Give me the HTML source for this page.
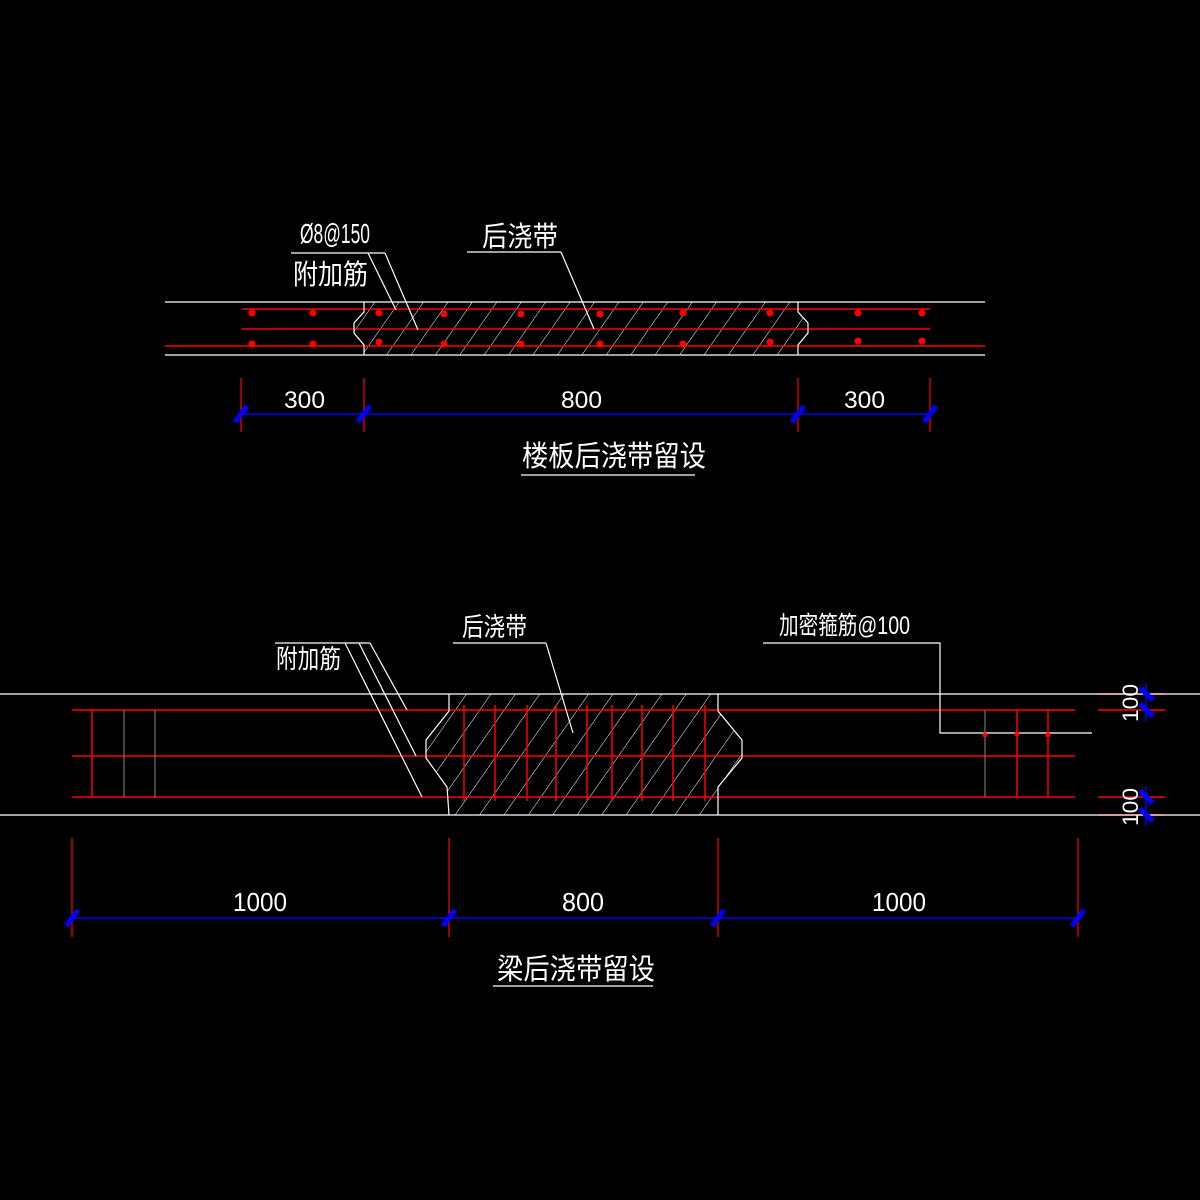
<!DOCTYPE html>
<html><head><meta charset="utf-8"><style>html,body{margin:0;padding:0;background:#000}svg{display:block}</style></head>
<body>
<svg width="1200" height="1200" viewBox="0 0 1200 1200" xmlns="http://www.w3.org/2000/svg">
<defs>
<pattern id="h" width="20" height="20" patternUnits="userSpaceOnUse" patternTransform="rotate(35)">
<line x1="0" y1="0" x2="0" y2="20" stroke="#fff" stroke-width="1"/>
</pattern>
<clipPath id="c1"><polygon points="364,302 364,312 354,323 354,333 364,345 364,355 798,355 798,345 808,333 808,323 798,312 798,302"/></clipPath>
<clipPath id="c2"><polygon points="449,694 449,711 426,740 426,758 447,787 449,815 718,815 718,787 742,758 742,740 718,711 718,694"/></clipPath>
</defs>
<rect width="1200" height="1200" fill="#000"/>
<g font-family="Liberation Sans, Noto Sans CJK SC, sans-serif" fill="#fff">
<!-- Slab -->
<rect x="354" y="302" width="454" height="53" fill="url(#h)" clip-path="url(#c1)"/>
<g stroke="#f00" stroke-width="1.5">
<line x1="242" y1="309" x2="930" y2="309"/>
<line x1="242" y1="329" x2="930" y2="329"/>
<line x1="165" y1="346" x2="985" y2="346"/>
</g>
<g stroke="#fff" stroke-width="1.2" fill="none">
<line x1="165" y1="302" x2="985" y2="302"/>
<line x1="165" y1="355" x2="985" y2="355"/>
<polyline points="364,302 364,312 354,323 354,333 364,345 364,355"/>
<polyline points="798,302 798,312 808,323 808,333 798,345 798,355"/>
<line x1="291" y1="253" x2="385" y2="253"/>
<line x1="368" y1="253" x2="396" y2="310"/>
<line x1="385" y1="253" x2="418" y2="330"/>
<line x1="467" y1="252" x2="561" y2="252"/>
<line x1="561" y1="252" x2="594" y2="329"/>
</g>
<g fill="#f00">
<circle cx="252" cy="313" r="3.5"/><circle cx="313" cy="313" r="3.5"/><circle cx="379" cy="313" r="3.5"/><circle cx="444" cy="314" r="3.5"/><circle cx="521" cy="314" r="3.5"/><circle cx="600" cy="314" r="3.5"/><circle cx="683" cy="313" r="3.5"/><circle cx="770" cy="313" r="3.5"/><circle cx="858" cy="313" r="3.5"/><circle cx="922" cy="313" r="3.5"/>
<circle cx="252" cy="344" r="3.5"/><circle cx="313" cy="344" r="3.5"/><circle cx="379" cy="342" r="3.5"/><circle cx="444" cy="344" r="3.5"/><circle cx="521" cy="344" r="3.5"/><circle cx="600" cy="344" r="3.5"/><circle cx="683" cy="344" r="3.5"/><circle cx="770" cy="342" r="3.5"/><circle cx="858" cy="341" r="3.5"/><circle cx="922" cy="341" r="3.5"/>
</g>
<text x="300" y="243" font-size="28" textLength="70" lengthAdjust="spacingAndGlyphs">Ø8@150</text>
<text x="293" y="284" font-size="28" textLength="75" lengthAdjust="spacingAndGlyphs">附加筋</text>
<text x="482" y="246" font-size="28" textLength="76" lengthAdjust="spacingAndGlyphs">后浇带</text>
<!-- slab dims -->
<g stroke="#f00" stroke-width="1.2">
<line x1="241" y1="378" x2="241" y2="432"/><line x1="364" y1="378" x2="364" y2="432"/><line x1="798" y1="378" x2="798" y2="432"/><line x1="930" y1="378" x2="930" y2="432"/>
</g>
<line x1="241" y1="414" x2="930" y2="414" stroke="#00f" stroke-width="1.5"/>
<g stroke="#00f" stroke-width="5">
<line x1="235" y1="422" x2="247" y2="406"/><line x1="358" y1="422" x2="370" y2="406"/><line x1="792" y1="422" x2="804" y2="406"/><line x1="924" y1="422" x2="936" y2="406"/>
</g>
<text x="284" y="408" font-size="24" textLength="41" lengthAdjust="spacingAndGlyphs">300</text>
<text x="561" y="408" font-size="24" textLength="41" lengthAdjust="spacingAndGlyphs">800</text>
<text x="844" y="408" font-size="24" textLength="41" lengthAdjust="spacingAndGlyphs">300</text>
<text x="522" y="466" font-size="29" textLength="184" lengthAdjust="spacingAndGlyphs">楼板后浇带留设</text>
<line x1="521" y1="475" x2="695" y2="475" stroke="#fff" stroke-width="1.2"/>

<!-- Beam -->
<rect x="426" y="694" width="316" height="121" fill="url(#h)" clip-path="url(#c2)"/>
<g stroke="#f00" stroke-width="1.5">
<line x1="72" y1="710" x2="1075" y2="710"/>
<line x1="72" y1="756" x2="1075" y2="756"/>
<line x1="72" y1="797" x2="1075" y2="797"/>
<line x1="92" y1="710" x2="92" y2="797"/>
<line x1="1017" y1="710" x2="1017" y2="797"/>
<line x1="1048" y1="710" x2="1048" y2="797"/>
<line x1="464" y1="705" x2="464" y2="801"/><line x1="495" y1="705" x2="495" y2="801"/><line x1="527" y1="705" x2="527" y2="801"/><line x1="556" y1="705" x2="556" y2="801"/><line x1="587" y1="705" x2="587" y2="801"/><line x1="612" y1="705" x2="612" y2="801"/><line x1="642" y1="705" x2="642" y2="801"/><line x1="673" y1="705" x2="673" y2="801"/><line x1="705" y1="705" x2="705" y2="801"/>
<line x1="1098" y1="694" x2="1165" y2="694"/><line x1="1098" y1="710" x2="1165" y2="710"/><line x1="1098" y1="797" x2="1165" y2="797"/><line x1="1098" y1="815" x2="1165" y2="815"/>
</g>
<g stroke="#888" stroke-width="1">
<line x1="124" y1="710" x2="124" y2="797"/><line x1="155" y1="710" x2="155" y2="797"/><line x1="985" y1="710" x2="985" y2="797"/>
</g>
<g stroke="#fff" stroke-width="1.2" fill="none">
<line x1="0" y1="694" x2="1200" y2="694"/>
<line x1="0" y1="815" x2="1200" y2="815"/>
<polyline points="449,694 449,711 426,740 426,758 447,787 449,815"/>
<polyline points="718,694 718,711 742,740 742,758 718,787 718,815"/>
<line x1="275" y1="643" x2="370" y2="643"/>
<line x1="345" y1="643" x2="422" y2="797"/>
<line x1="359" y1="643" x2="416" y2="756"/>
<line x1="370" y1="643" x2="407" y2="710"/>
<line x1="453" y1="643" x2="546" y2="643"/>
<line x1="546" y1="643" x2="573" y2="733"/>
<polyline points="763,643 940,643 940,733 1092,733"/>
</g>
<g fill="#f00"><circle cx="985" cy="735" r="2.5"/><circle cx="1017" cy="734" r="2.5"/><circle cx="1048" cy="735" r="2.5"/></g>
<text x="276" y="668" font-size="26" textLength="65" lengthAdjust="spacingAndGlyphs">附加筋</text>
<text x="462" y="636" font-size="26" textLength="65" lengthAdjust="spacingAndGlyphs">后浇带</text>
<text x="779" y="634" font-size="25" textLength="131" lengthAdjust="spacingAndGlyphs">加密箍筋@100</text>
<!-- right vertical dims -->
<line x1="1146" y1="683" x2="1146" y2="722" stroke="#00f" stroke-width="1.5"/>
<line x1="1146" y1="786" x2="1146" y2="826" stroke="#00f" stroke-width="1.5"/>
<g stroke="#00f" stroke-width="5">
<line x1="1140" y1="688" x2="1153" y2="700"/><line x1="1140" y1="704" x2="1153" y2="716"/>
<line x1="1140" y1="791" x2="1153" y2="803"/><line x1="1140" y1="809" x2="1153" y2="821"/>
</g>
<text transform="translate(1138,722) rotate(-90)" font-size="22" textLength="38" lengthAdjust="spacingAndGlyphs">100</text>
<text transform="translate(1138,826) rotate(-90)" font-size="22" textLength="38" lengthAdjust="spacingAndGlyphs">100</text>
<!-- beam dims -->
<g stroke="#f00" stroke-width="1.2">
<line x1="72" y1="838" x2="72" y2="937"/><line x1="449" y1="838" x2="449" y2="937"/><line x1="718" y1="838" x2="718" y2="937"/><line x1="1078" y1="838" x2="1078" y2="937"/>
</g>
<line x1="72" y1="918" x2="1078" y2="918" stroke="#00f" stroke-width="1.5"/>
<g stroke="#00f" stroke-width="5">
<line x1="66" y1="926" x2="78" y2="910"/><line x1="443" y1="926" x2="455" y2="910"/><line x1="712" y1="926" x2="724" y2="910"/><line x1="1072" y1="926" x2="1084" y2="910"/>
</g>
<text x="233" y="911" font-size="26" textLength="54" lengthAdjust="spacingAndGlyphs">1000</text>
<text x="562" y="911" font-size="26" textLength="42" lengthAdjust="spacingAndGlyphs">800</text>
<text x="872" y="911" font-size="26" textLength="54" lengthAdjust="spacingAndGlyphs">1000</text>
<text x="497" y="979" font-size="29" textLength="158" lengthAdjust="spacingAndGlyphs">梁后浇带留设</text>
<line x1="493" y1="986" x2="653" y2="986" stroke="#fff" stroke-width="1.2"/>
</g>
</svg>
</body></html>
